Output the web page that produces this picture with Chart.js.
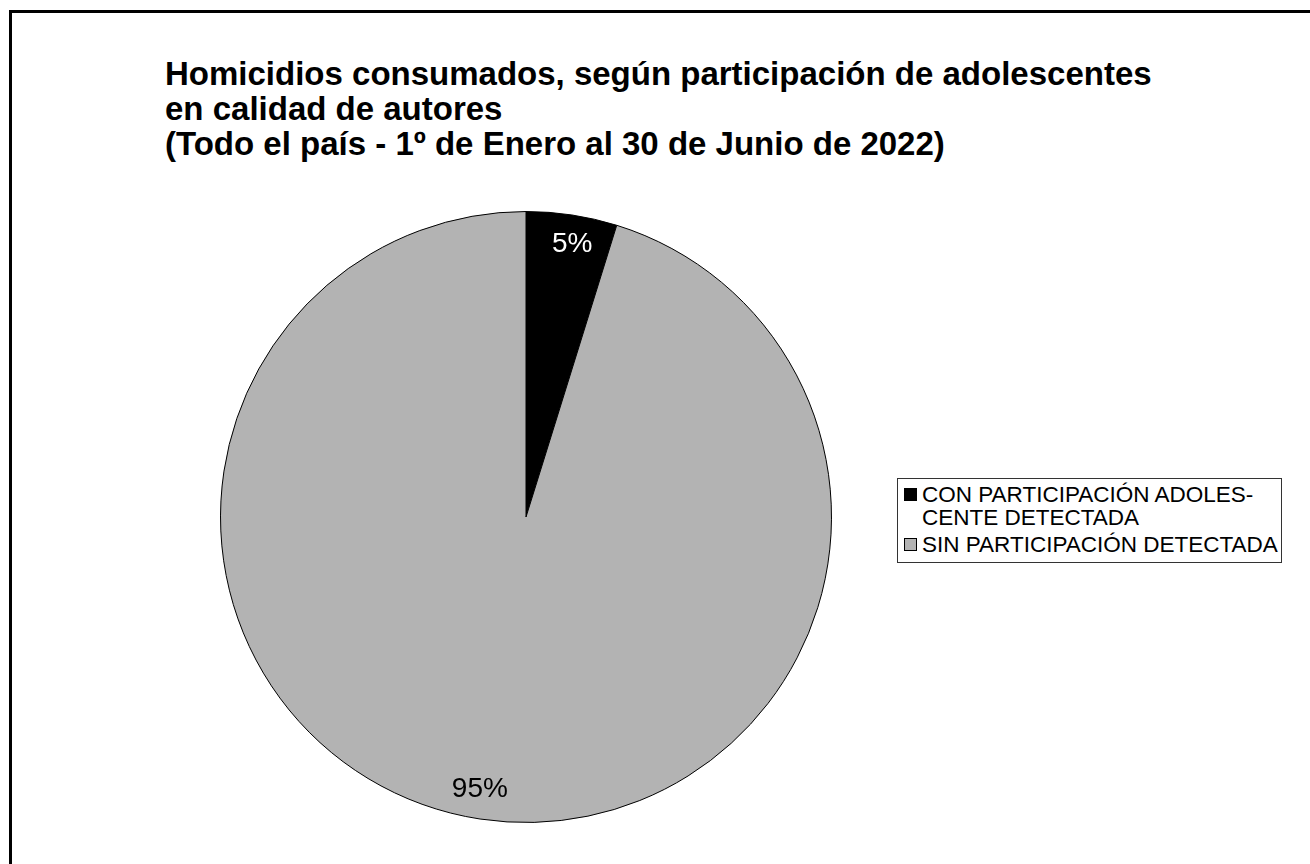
<!DOCTYPE html>
<html>
<head>
<meta charset="utf-8">
<script src="https://cdn.jsdelivr.net/npm/chart.js@4.4.1/dist/chart.umd.min.js"></script>
<style>
  html, body { margin: 0; padding: 0; background: #fff; width: 1310px; height: 864px; overflow: hidden; }
  body { position: relative; font-family: "Liberation Sans", Arial, sans-serif; }
  #frame { position: absolute; left: 9px; top: 10px; width: 1400px; height: 1000px; border: 3px solid #000; box-sizing: border-box; }
  #title { position: absolute; left: 165px; top: 56px; font-weight: bold; font-size: 33px; line-height: 35px; color: #000; white-space: nowrap; }
  #pieWrap { position: absolute; left: 216px; top: 207px; width: 620px; height: 620px; }
  #legend { position: absolute; left: 897px; top: 478px; width: 385px; box-sizing: border-box; border: 1px solid #333; background: #fff; padding: 4px 3px 6px 6px; font-size: 22.5px; line-height: 23px; color: #000; white-space: nowrap; }
  .item { display: flex; align-items: flex-start; margin: 0 0 4px 0; }
  .item:last-child { margin-bottom: 0; }
  .sw { width: 11px; height: 11px; border: 1px solid #000; margin: 5px 5px 0 0; flex: none; }
</style>
</head>
<body>
<div id="frame"></div>
<div id="title"></div>
<div id="pieWrap"><canvas id="pie" width="620" height="620"></canvas></div>
<div id="legend"></div>
<script>
const titleLines = [
  "Homicidios consumados, según participación de adolescentes",
  "en calidad de autores",
  "(Todo el país - 1º de Enero al 30 de Junio de 2022)"
];
const categories = [
  ["CON PARTICIPACIÓN ADOLES-", "CENTE DETECTADA"],
  ["SIN PARTICIPACIÓN DETECTADA"]
];
const values = [4.8, 95.2];
const colors = ["#000000", "#b3b3b3"];
const labelColors = ["#ffffff", "#000000"];

document.getElementById('title').innerHTML = titleLines.join('<br>');

const legend = document.getElementById('legend');
categories.forEach((lines, i) => {
  const it = document.createElement('div');
  it.className = 'item';
  const sw = document.createElement('div');
  sw.className = 'sw';
  sw.style.background = colors[i];
  const tx = document.createElement('div');
  tx.innerHTML = lines.join('<br>');
  it.appendChild(sw); it.appendChild(tx);
  legend.appendChild(it);
});

const total = values.reduce((a, b) => a + b, 0);

const pctLabels = {
  id: 'pctLabels',
  afterDatasetsDraw(chart) {
    const ctx = chart.ctx;
    const meta = chart.getDatasetMeta(0);
    ctx.save();
    ctx.font = '28px "Liberation Sans", Arial, sans-serif';
    ctx.textAlign = 'center';
    ctx.textBaseline = 'middle';
    meta.data.forEach((arc, i) => {
      const p = arc.getProps(['x', 'y', 'startAngle', 'endAngle', 'outerRadius'], true);
      const mid = (p.startAngle + p.endAngle) / 2 + 0.017;
      const r = p.outerRadius * 0.905;
      const px = p.x + Math.cos(mid) * r;
      const py = p.y + Math.sin(mid) * r;
      ctx.fillStyle = labelColors[i];
      ctx.fillText(Math.round(values[i] / total * 100) + '%', px, py);
    });
    ctx.restore();
  }
};

new Chart(document.getElementById('pie'), {
  type: 'pie',
  data: {
    labels: categories,
    datasets: [{
      data: values,
      backgroundColor: colors,
      borderColor: '#000000',
      borderWidth: 1
    }]
  },
  options: {
    responsive: false,
    animation: false,
    devicePixelRatio: 1,
    layout: { padding: 4 },
    plugins: {
      legend: { display: false },
      tooltip: { enabled: false },
      title: { display: false }
    }
  },
  plugins: [pctLabels]
});
</script>
</body>
</html>
